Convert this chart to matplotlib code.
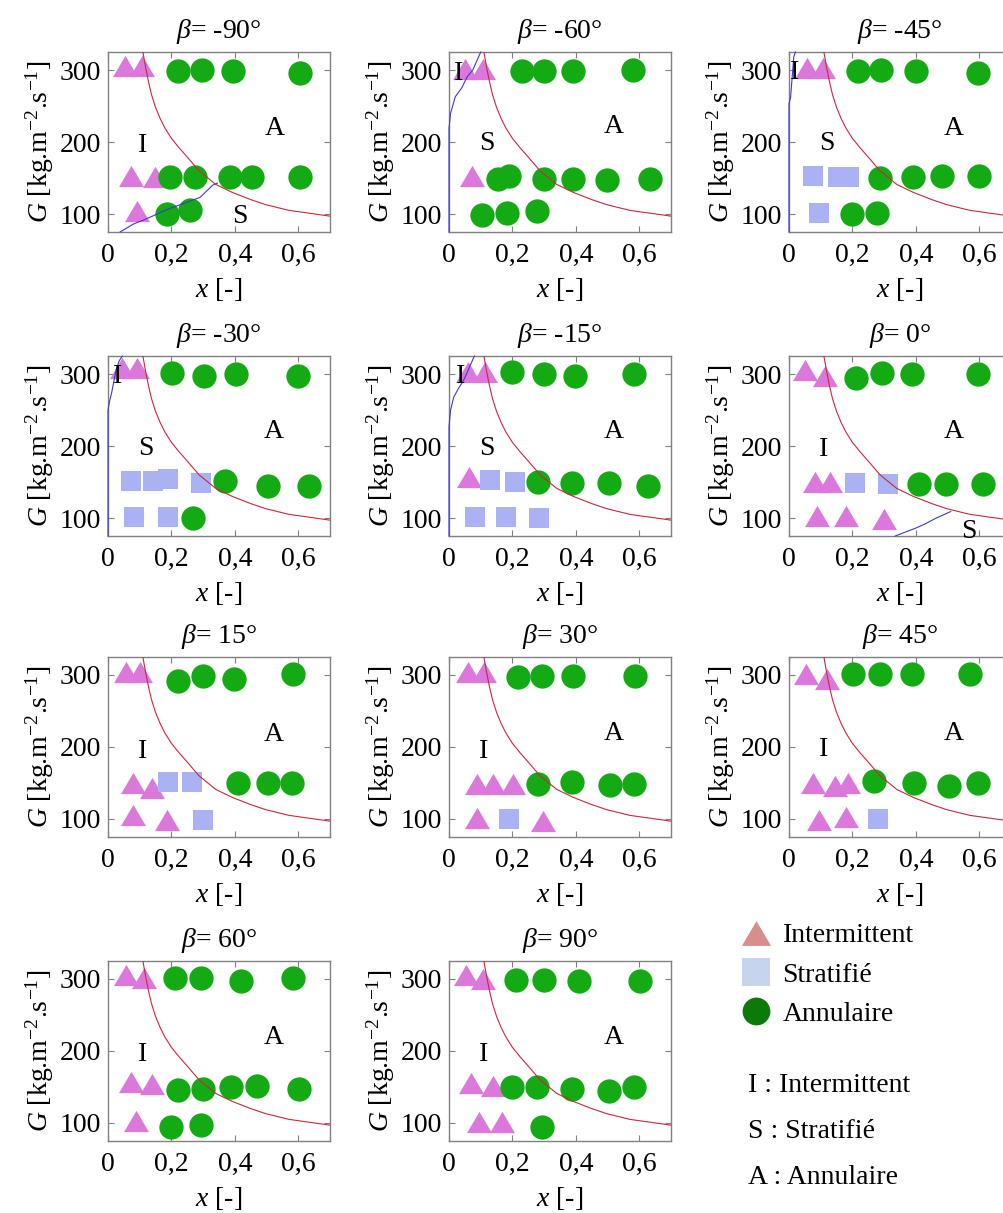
import matplotlib
matplotlib.use("Agg")
import matplotlib.pyplot as plt
from matplotlib.lines import Line2D

plt.rcParams["font.family"] = ["Liberation Serif", "DejaVu Serif"]
plt.rcParams["mathtext.fontset"] = "custom"
plt.rcParams["mathtext.rm"] = "Liberation Serif"
plt.rcParams["mathtext.it"] = "Liberation Serif:italic"

# inclination angles, one panel each
ANGLES = [-90, -60, -45, -30, -15, 0, 15, 30, 45, 60, 90]

# (x, G) per regime and per angle
m90_int = ([0.054, 0.106, 0.072, 0.148, 0.09], [305, 305, 153, 151, 104])
m90_str = ([], [])
m90_ann = ([0.222, 0.296, 0.395, 0.606, 0.196, 0.274, 0.385, 0.453, 0.606, 0.185, 0.259],
           [299, 300, 298, 296, 151, 151, 151, 151, 151, 100, 106])

m60_int = ([0.05, 0.108, 0.072], [301, 301, 153])
m60_str = ([], [])
m60_ann = ([0.229, 0.298, 0.392, 0.581, 0.156, 0.19, 0.298, 0.392, 0.497, 0.634, 0.103, 0.182, 0.277],
           [298, 299, 299, 300, 148, 153, 149, 149, 147, 148, 98, 102, 104])

m45_int = ([0.056, 0.108], [303, 303])
m45_str = ([0.075, 0.156, 0.19, 0.096], [153, 151, 152, 101])
m45_ann = ([0.217, 0.29, 0.4, 0.595, 0.287, 0.392, 0.482, 0.6, 0.198, 0.277],
           [299, 300, 299, 296, 150, 152, 153, 153, 100, 102])

m30_int = ([0.045, 0.093], [308, 308])
m30_str = ([0.072, 0.142, 0.19, 0.292, 0.082, 0.19], [151, 151, 154, 149, 102, 102])
m30_ann = ([0.203, 0.303, 0.403, 0.6, 0.369, 0.506, 0.634, 0.269],
           [302, 297, 300, 297, 151, 145, 145, 100])

m15_int = ([0.061, 0.114, 0.064], [303, 303, 157])
m15_str = ([0.129, 0.208, 0.082, 0.179, 0.285], [153, 150, 102, 102, 100])
m15_ann = ([0.198, 0.298, 0.397, 0.584, 0.282, 0.389, 0.503, 0.626],
           [303, 300, 297, 300, 150, 148, 148, 145])

p0_int = ([0.05, 0.114, 0.082, 0.129, 0.089, 0.179, 0.298], [306, 297, 150, 150, 103, 103, 99])
p0_str = ([0.208, 0.313], [148, 147])
p0_ann = ([0.211, 0.292, 0.387, 0.597, 0.411, 0.494, 0.613], [295, 301, 300, 300, 147, 147, 147])

p15_int = ([0.056, 0.1, 0.079, 0.14, 0.079, 0.185], [304, 304, 150, 143, 106, 99])
p15_str = ([0.19, 0.266, 0.298], [152, 152, 98])
p15_ann = ([0.222, 0.298, 0.397, 0.584, 0.411, 0.506, 0.579], [292, 298, 295, 301, 150, 150, 150])

p30_int = ([0.061, 0.11, 0.087, 0.14, 0.203, 0.089, 0.295], [304, 304, 148, 148, 148, 101, 97])
p30_str = ([0.19], [100])
p30_ann = ([0.217, 0.292, 0.392, 0.587, 0.282, 0.389, 0.508, 0.584],
           [297, 298, 298, 298, 148, 151, 147, 148])

p45_int = ([0.054, 0.119, 0.077, 0.145, 0.187, 0.096, 0.179], [302, 295, 150, 146, 150, 99, 103])
p45_str = ([0.28], [100])
p45_ann = ([0.203, 0.287, 0.389, 0.571, 0.269, 0.395, 0.503, 0.597],
           [301, 302, 301, 302, 153, 150, 146, 150])

p60_int = ([0.056, 0.114, 0.072, 0.14, 0.089], [306, 301, 157, 154, 103])
p60_str = ([], [])
p60_ann = ([0.211, 0.292, 0.418, 0.584, 0.222, 0.3, 0.389, 0.471, 0.603, 0.198, 0.292],
           [301, 301, 297, 302, 146, 147, 150, 152, 147, 94, 97])

p90_int = ([0.054, 0.108, 0.069, 0.14, 0.096, 0.166], [306, 300, 155, 151, 101, 102])
p90_str = ([], [])
p90_ann = ([0.211, 0.298, 0.41, 0.603, 0.198, 0.277, 0.389, 0.503, 0.584, 0.292],
           [299, 299, 297, 297, 150, 150, 147, 145, 150, 95])

INTERMITTENT = [m90_int, m60_int, m45_int, m30_int, m15_int, p0_int, p15_int, p30_int, p45_int, p60_int, p90_int]
STRATIFIED = [m90_str, m60_str, m45_str, m30_str, m15_str, p0_str, p15_str, p30_str, p45_str, p60_str, p90_str]
ANNULAR = [m90_ann, m60_ann, m45_ann, m30_ann, m15_ann, p0_ann, p15_ann, p30_ann, p45_ann, p60_ann, p90_ann]

# intermittent/annular transition curve (same on every panel)
trans_ia_x = [0.110, 0.118, 0.127, 0.137, 0.15, 0.165, 0.18, 0.2, 0.224, 0.25, 0.287, 0.34, 0.392,
              0.45, 0.497, 0.571, 0.62, 0.7]
trans_ia_g = [325, 305, 285, 266, 248, 232, 219, 205, 192, 179, 160, 141, 130,
              120, 113, 105, 102, 97]

# stratified transition curve, only where it shows
STRAT_CURVES = {
    -90: ([0.038, 0.08, 0.13, 0.185, 0.24, 0.29, 0.33, 0.345], [75, 86, 95, 106, 115, 123, 140, 143]),
    -60: ([0, 0, 0.005, 0.02, 0.04, 0.058, 0.075, 0.09, 0.1], [75, 219, 240, 263, 275, 291, 300, 315, 325]),
    -45: ([0, 0, 0.005, 0.01, 0.015, 0.02], [75, 253, 262, 290, 318, 325]),
    -30: ([0, 0, 0.005, 0.012, 0.025, 0.035, 0.045], [75, 250, 262, 275, 305, 318, 325]),
    -15: ([0, 0, 0.005, 0.015, 0.03, 0.047, 0.065, 0.08], [75, 227, 250, 268, 280, 292, 310, 325]),
    0: ([0.335, 0.37, 0.4, 0.43, 0.46, 0.49, 0.51], [75, 81, 86, 92, 99, 105, 109]),
}

# regime labels written on each map
REGION_LABELS = {
    -90: [("I", 0.11, 195), ("A", 0.527, 219), ("S", 0.416, 96)],
    -60: [("I", 0.03, 295), ("S", 0.119, 198), ("A", 0.518, 221)],
    -45: [("I", 0.019, 296), ("S", 0.119, 198), ("A", 0.518, 219)],
    -30: [("I", 0.03, 297), ("S", 0.119, 197), ("A", 0.524, 220)],
    -15: [("I", 0.035, 297), ("S", 0.119, 197), ("A", 0.518, 220)],
    0: [("I", 0.108, 195), ("A", 0.518, 220), ("S", 0.566, 81)],
    15: [("I", 0.108, 194), ("A", 0.524, 218)],
    30: [("I", 0.108, 194), ("A", 0.518, 219)],
    45: [("I", 0.108, 196), ("A", 0.518, 219)],
    60: [("I", 0.108, 195), ("A", 0.524, 219)],
    90: [("I", 0.108, 195), ("A", 0.518, 219)],
}

X_TICKS = [0, 0.2, 0.4, 0.6]
X_TICK_LABELS = ["0", "0,2", "0,4", "0,6"]
Y_TICKS = [100, 200, 300]

LEGEND_LABELS = ["Intermittent", "Stratifié", "Annulaire"]
KEY_LINES = ["I : Intermittent", "S : Stratifié", "A : Annulaire"]

C_INT = "#dc78dc"
C_STR = "#aab2f4"
C_ANN = "#14aa14"
TRI = [(-1, -0.85), (1, -0.85), (0, 0.85)]
FS = 20

W, H = 1004, 1213
fig = plt.figure(figsize=(W / 100, H / 100), dpi=100)

col_left = [108, 449, 789]
row_top = [52, 356, 657, 961]
ax_w, ax_h = 222, 180

for i, angle in enumerate(ANGLES):
    r, c = divmod(i, 3)
    ax = fig.add_axes([col_left[c] / W, (H - row_top[r] - ax_h) / H, ax_w / W, ax_h / H])

    xi, gi = INTERMITTENT[i]
    xs, gs = STRATIFIED[i]
    xa, ga = ANNULAR[i]
    ax.plot(xi, gi, linestyle="none", marker=TRI, ms=18, color=C_INT, mew=0, zorder=2)
    ax.plot(xs, gs, linestyle="none", marker="s", ms=14.5, color=C_STR, mew=0, zorder=2)
    ax.plot(xa, ga, linestyle="none", marker="o", ms=17.5, color=C_ANN, mew=0, zorder=2.2)

    ax.plot(trans_ia_x, trans_ia_g, color="#c8283c", lw=0.8, zorder=3)
    if angle in STRAT_CURVES:
        bx, bg = STRAT_CURVES[angle]
        ax.plot(bx, bg, color="#3c3cc8", lw=0.8, zorder=3, clip_on=False)

    for txt, tx, ty in REGION_LABELS[angle]:
        ax.text(tx, ty, txt, fontsize=FS, ha="center", va="center", zorder=4)

    ax.set_xlim(0, 0.7)
    ax.set_ylim(75, 325)
    ax.set_xticks(X_TICKS)
    ax.set_xticklabels(X_TICK_LABELS)
    ax.set_yticks(Y_TICKS)
    ax.tick_params(direction="in", length=4, width=0.8, color="#808080",
                   top=True, right=True, labelsize=FS)
    ax.tick_params(axis="x", pad=8)
    ax.tick_params(axis="y", pad=5)
    for sp in ax.spines.values():
        sp.set_color("#808080")
        sp.set_linewidth(1.0)

    ax.set_title(r"$\beta$= " + f"{angle}°", fontsize=FS, pad=10)
    ax.set_xlabel(r"$x$ [-]", fontsize=FS, labelpad=6)
    ax.set_ylabel(r"$G$ [kg.m$^{-2}$.s$^{-1}$]", fontsize=FS, labelpad=3)

handles = [
    Line2D([], [], linestyle="none", marker=TRI, ms=21, color="#d98e8e", mew=0),
    Line2D([], [], linestyle="none", marker="s", ms=20, color="#c6d4ee", mew=0),
    Line2D([], [], linestyle="none", marker="o", ms=20, color="#0a7a0a", mew=0),
]
fig.legend(handles, LEGEND_LABELS, loc="upper left", bbox_to_anchor=(727 / W, 1 - 909 / H),
           frameon=False, fontsize=FS, borderpad=0, handlelength=1.1, handletextpad=0.4,
           labelspacing=0.5)

for k, line in enumerate(KEY_LINES):
    fig.text(748 / W, 1 - (1085 + 46 * k) / H, line, fontsize=FS, ha="left", va="center")

fig.savefig("out.png", dpi=100)
